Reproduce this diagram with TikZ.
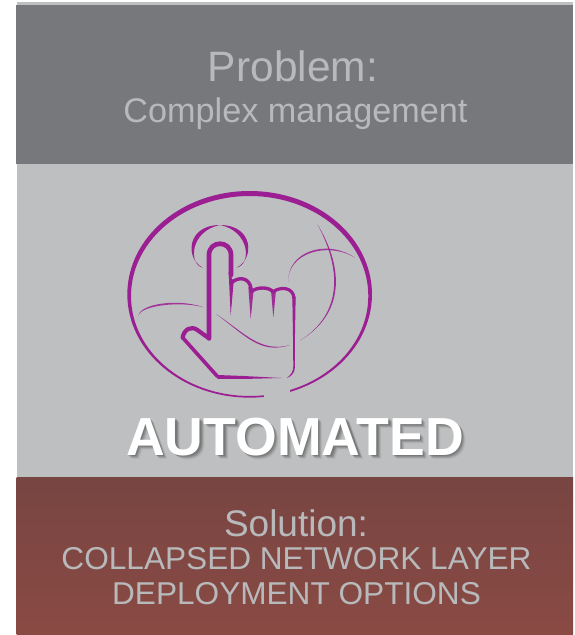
\documentclass[tikz,border=0pt]{standalone}
\usepackage{fontspec}
\setmainfont{Liberation Sans}
\usetikzlibrary{calc}
\definecolor{darkgrey}{HTML}{77787C}
\definecolor{lightgrey}{HTML}{BEBFC1}
\definecolor{softtext}{HTML}{B8B9BB}
\definecolor{redtop}{HTML}{784542}
\definecolor{redbot}{HTML}{8A4A44}
\definecolor{purp}{HTML}{9B1F92}
\newcommand{\fs}[1]{\fontsize{#1}{#1}\selectfont}
% lens: a, c1, c2, b, offset of return controls
\newcommand{\lens}[6][1]{\fill[purp,opacity=#1] #2 .. controls #3 and #4 .. #5 .. controls ($#4+#6$) and ($#3+#6$) .. #2 -- cycle;}
\tikzset{
  soft/.style={text=softtext,anchor=base,inner sep=0pt},
  band/.style={line cap=round,line join=round,draw=purp}
}
\begin{document}
\begin{tikzpicture}[x=1pt,y=-1pt]
\useasboundingbox (0,0) rectangle (574,635);
\fill[white] (0,0) rectangle (574,635);
\fill[lightgrey] (16.5,2) rectangle (573,477);
\fill[darkgrey] (15.5,5) rectangle (572.5,163.5);
\shade[top color=redtop,bottom color=redbot] (16.5,477) rectangle (573,635);

\node[soft] (problem) at (293,81) {\fs{42.5}Problem:};
\node[soft] (complex) at (295.5,122) {\fs{34.2}Complex management};
\node[soft] (solution) at (296,536) {\fs{37}Solution:};
\node[soft] (collapsed) at (296.5,569) {\fs{31.6}COLLAPSED NETWORK LAYER};
\node[soft] (deploy) at (296.5,604) {\fs{31.6}DEPLOYMENT OPTIONS};

\foreach \d/\o in {1.5/.25,2.5/.22,3.5/.16,4.5/.08}
  \node[text=black!75,opacity=\o,anchor=base,inner sep=0pt] at (295+\d,455+\d) {\fs{53.6}\bfseries AUTOMATED};
\node[text=white,anchor=base,inner sep=0pt] (auto) at (295,455) {\fs{53.6}\bfseries AUTOMATED};

\begin{scope}[shift={(110,175)},x=0.3333pt,y=-0.3333pt]
  % outer ring
  \fill[purp,even odd rule] (419,358) ellipse [x radius=367,y radius=310]
     (419,363) ellipse [x radius=356,y radius=300];
  \fill[lightgrey] (462,640) -- (540,640) -- (540,680) -- (462,680) -- cycle;
  % halo
  \lens{(278,278)}{(225,250)}{(230,150)}{(330,150)}{(10,18)}
  \lens{(380,278)}{(435,250)}{(430,150)}{(330,150)}{(-10,18)}
  % globe curves
  \lens[.85]{(85,425)}{(85,385)}{(210,370)}{(280,397)}{(0,7)}
  \lens[.9]{(318,417)}{(400,470)}{(450,535)}{(540,510)}{(0,6)}
  \lens[.9]{(622,148)}{(680,240)}{(730,400)}{(570,497)}{(-7,0)}
  \lens[.85]{(535,322)}{(530,230)}{(650,190)}{(735,248)}{(0,7)}
  % index finger and thumb
  \draw[band,line width=4.7pt] (297,490) -- (297,240) .. controls (297,195) and (363,195) .. (363,240) -- (363,300);
  \draw[band,line width=4.2pt] (297,490) -- (262,465) .. controls (245,452) and (222,462) .. (218,488);
  \draw[band,line width=3.6pt] (218,488) -- (322,604);
  % tapers between fingers
  \fill[purp] (356,290) -- (371,320) -- (362,422) -- cycle;
  \fill[purp,opacity=.9] (415,335) -- (431,345) -- (422,432) -- cycle;
  \fill[purp,opacity=.9] (483,345) -- (498,345) -- (490,428) -- cycle;
  % knuckles
  \draw[band,line width=3.4pt] (366,322) .. controls (385,305) and (420,305) .. (424,345);
  \draw[band,line width=3.4pt] (424,350) .. controls (440,335) and (480,335) .. (490,352);
  \draw[band,line width=3.2pt] (490,350) .. controls (510,335) and (550,335) .. (552,370);
  % right side and bottom, both tapering away
  \fill[purp] (547,365) -- (557,365) -- (555,480) -- (555,575) .. controls (555,595) and (542,606) .. (530,609) .. controls (540,602) and (550,592) .. (550,575) -- (549,480) -- cycle;
  \fill[purp] (322,600) -- (400,603) -- (515,609) -- (400,612) -- (322,612) -- cycle;
\end{scope}
\end{tikzpicture}
\end{document}
